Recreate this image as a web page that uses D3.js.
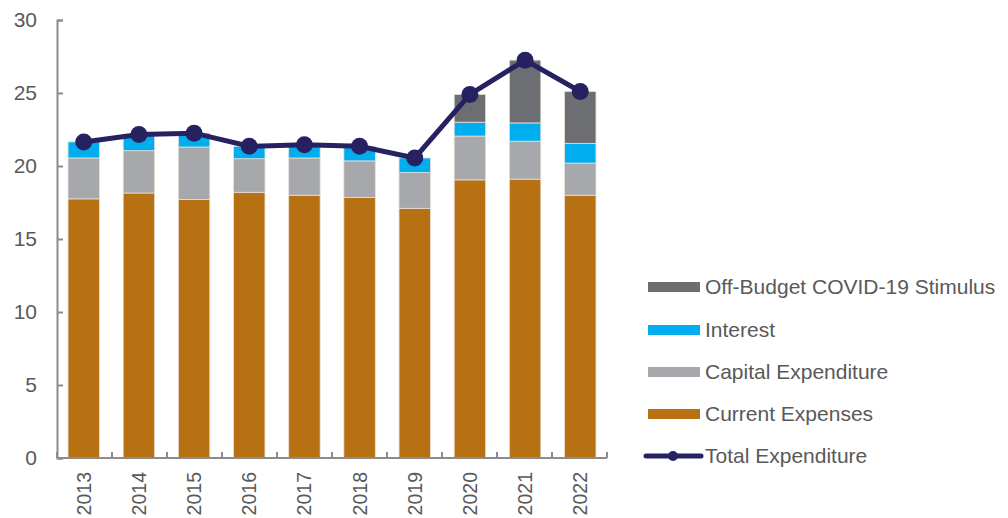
<!DOCTYPE html>
<html>
<head>
<meta charset="utf-8">
<script src="https://cdn.jsdelivr.net/npm/d3@7"></script>
<style>
  body { margin: 0; background: #fff; }
  text { font-family: "Liberation Sans", Arial, sans-serif; fill: #595959; }
</style>
</head>
<body>
<div id="container"></div>
<script>
/* DATA */
const years = ["2013", "2014", "2015", "2016", "2017", "2018", "2019", "2020", "2021", "2022"];
const currentExpenses = [17.75, 18.15, 17.7, 18.2, 18.0, 17.85, 17.1, 19.05, 19.1, 18.0];
const capitalExpenditure = [2.8, 2.9, 3.6, 2.3, 2.55, 2.5, 2.45, 3.0, 2.6, 2.2];
const interest = [1.1, 1.1, 0.95, 0.85, 0.9, 1.0, 1.0, 0.95, 1.25, 1.35];
const covidStimulus = [0, 0, 0, 0, 0, 0, 0, 1.9, 4.3, 3.55];
const totalExpenditure = [21.65, 22.15, 22.25, 21.35, 21.45, 21.35, 20.55, 24.9, 27.25, 25.1];
const yTicks = [0, 5, 10, 15, 20, 25, 30];

const seriesKeys = ["current", "capital", "interest", "covid"];
const seriesNames = {
  current: "Current Expenses",
  capital: "Capital Expenditure",
  interest: "Interest",
  covid: "Off-Budget COVID-19 Stimulus"
};
const colors = {
  current: "#B87112",
  capital: "#A7A8AB",
  interest: "#00AEEF",
  covid: "#6D6E71"
};

/* CONSTANTS */
const width = 1008;
const height = 518;
const plotLeft = 57, plotRight = 607, plotTop = 20, plotBottom = 458;

const table = years.map((y, i) => ({
  year: y,
  current: currentExpenses[i],
  capital: capitalExpenditure[i],
  interest: interest[i],
  covid: covidStimulus[i],
  total: totalExpenditure[i]
}));

/* SCALES */
const xScale = d3.scaleBand()
  .domain(years)
  .range([plotLeft, plotRight])
  .paddingInner(0.43)
  .paddingOuter(0.2);

const yScale = d3.scaleLinear()
  .domain([0, 30])
  .range([plotBottom, plotTop]);

const stack = d3.stack().keys(seriesKeys)(table);

/* SVG */
const svg = d3.select("#container")
  .append("svg")
  .attr("width", width)
  .attr("height", height);

// Bars
svg.append("g")
  .selectAll("g")
  .data(stack)
  .join("g")
  .attr("fill", d => colors[d.key])
  .selectAll("rect")
  .data(d => d)
  .join("rect")
  .attr("x", d => xScale(d.data.year))
  .attr("width", xScale.bandwidth())
  .attr("y", d => yScale(d[1]))
  .attr("height", d => yScale(d[0]) - yScale(d[1]))
  .attr("stroke", "#e6e0d8")
  .attr("stroke-width", d => d[1] - d[0] > 0 ? 0.8 : 0);

// Axes
const axisColor = "#8c8c8c";

const yAxis = svg.append("g")
  .attr("transform", `translate(${plotLeft},0)`)
  .call(d3.axisLeft(yScale).tickValues(yTicks).tickSizeInner(-6).tickSizeOuter(-6).tickPadding(20));
yAxis.select(".domain").attr("stroke", axisColor).attr("stroke-width", 2);
yAxis.selectAll(".tick line").attr("stroke", axisColor).attr("stroke-width", 2);
yAxis.selectAll(".tick text")
  .style("font-size", "21px")
  .style("font-family", "Liberation Sans, Arial, sans-serif")
  .attr("fill", "#595959");

const xAxis = svg.append("g")
  .attr("transform", `translate(0,${plotBottom})`);
xAxis.append("line")
  .attr("x1", plotLeft).attr("x2", plotRight)
  .attr("stroke", axisColor).attr("stroke-width", 2);
// tick marks on band boundaries
xAxis.selectAll(".btick")
  .data(d3.range(years.length + 1))
  .join("line")
  .attr("class", "btick")
  .attr("x1", i => plotLeft + i * (plotRight - plotLeft) / years.length)
  .attr("x2", i => plotLeft + i * (plotRight - plotLeft) / years.length)
  .attr("y1", 0).attr("y2", -6)
  .attr("stroke", axisColor).attr("stroke-width", 2);
xAxis.selectAll(".ylabel")
  .data(years)
  .join("text")
  .attr("class", "ylabel")
  .attr("transform", d => `translate(${xScale(d) + xScale.bandwidth() / 2 + 7},14) rotate(-90)`)
  .attr("text-anchor", "end")
  .style("font-size", "19.5px")
  .text(d => d);

// Total line
const line = d3.line()
  .x(d => xScale(d.year) + xScale.bandwidth() / 2)
  .y(d => yScale(d.total));

svg.append("path")
  .datum(table)
  .attr("fill", "none")
  .attr("stroke", "#262262")
  .attr("stroke-width", 5)
  .attr("d", line);

svg.append("g")
  .selectAll("circle")
  .data(table)
  .join("circle")
  .attr("cx", d => xScale(d.year) + xScale.bandwidth() / 2)
  .attr("cy", d => yScale(d.total))
  .attr("r", 8.5)
  .attr("fill", "#262262");

// Legend
const legendItems = ["covid", "interest", "capital", "current"];
const legend = svg.append("g");
const legendY = [287, 330, 372, 414];
legendItems.forEach((k, i) => {
  legend.append("rect")
    .attr("x", 648).attr("y", legendY[i] - 5)
    .attr("width", 52).attr("height", 10)
    .attr("fill", colors[k]);
  legend.append("text")
    .attr("x", 705).attr("y", legendY[i])
    .attr("dy", "0.35em")
    .style("font-size", "21px")
    .text(seriesNames[k]);
});
legend.append("line")
  .attr("x1", 646).attr("x2", 701)
  .attr("y1", 456).attr("y2", 456)
  .attr("stroke", "#262262").attr("stroke-width", 5)
  .attr("stroke-linecap", "round");
legend.append("circle")
  .attr("cx", 673).attr("cy", 456).attr("r", 5)
  .attr("fill", "#262262");
legend.append("text")
  .attr("x", 705).attr("y", 456)
  .attr("dy", "0.35em")
  .style("font-size", "21px")
  .text("Total Expenditure");
</script>
</body>
</html>
